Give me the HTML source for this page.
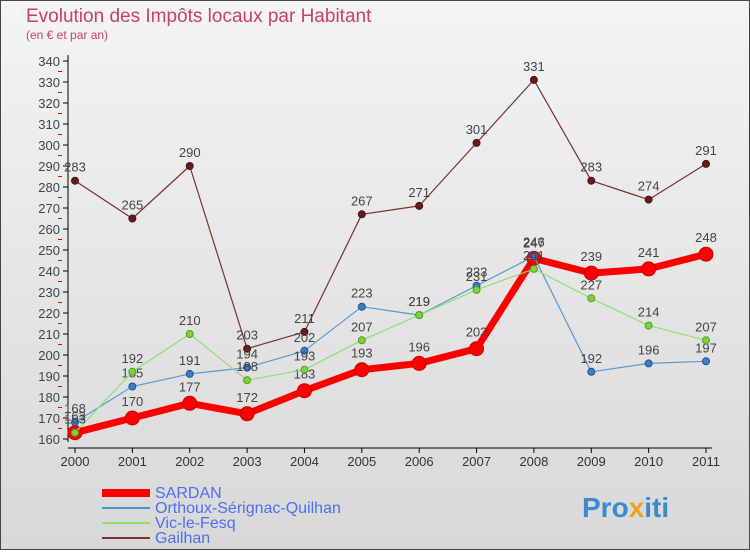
<!DOCTYPE html>
<html><head><meta charset="utf-8"><style>
body{margin:0;width:750px;height:550px;overflow:hidden;font-family:"Liberation Sans",sans-serif}
</style></head><body>
<svg width="750" height="550" xmlns="http://www.w3.org/2000/svg" id="svg">
<defs><linearGradient id="bg" x1="0" y1="0" x2="0" y2="1"><stop offset="0" stop-color="#f4f4f4"/><stop offset="1" stop-color="#d8d8d8"/></linearGradient></defs>
<rect x="0.5" y="0.5" width="749" height="549" fill="url(#bg)" stroke="#444"/>
<text x="26" y="22" font-size="19" fill="#c8406a">Evolution des Impôts locaux par Habitant</text>
<text x="26" y="39" font-size="12" fill="#c8406a">(en € et par an)</text>
<g id="axes"></g><g id="series"></g>
<g font-size="16">
<line x1="102" y1="493" x2="150" y2="493" stroke="#f00" stroke-width="8"/>
<text x="155" y="498" fill="#4a6ff0">SARDAN</text>
<line x1="102" y1="508" x2="150" y2="508" stroke="#4a90d0" stroke-width="2"/>
<text x="155" y="513" fill="#4a6ff0">Orthoux-Sérignac-Quilhan</text>
<line x1="102" y1="523" x2="150" y2="523" stroke="#90e070" stroke-width="2"/>
<text x="155" y="528" fill="#4a6ff0">Vic-le-Fesq</text>
<line x1="102" y1="538" x2="150" y2="538" stroke="#7a3030" stroke-width="2"/>
<text x="155" y="543" fill="#4a6ff0">Gailhan</text>
</g>
<text x="582" y="517" font-size="28" font-weight="bold" fill="#3a8ad0">Pro<tspan fill="#f0a020">x</tspan>iti</text>
</svg>
<script>
const years=[2000,2001,2002,2003,2004,2005,2006,2007,2008,2009,2010,2011];
const yTicks=[160,170,180,190,200,210,220,230,240,250,260,270,280,290,300,310,320,330,340];
const sardan=[163,170,177,172,183,193,196,203,246,239,241,248];
const orthoux=[168,185,191,194,202,223,219,233,247,192,196,197];
const vic=[163,192,210,188,193,207,219,231,241,227,214,207];
const gailhan=[283,265,290,203,211,267,271,301,331,283,274,291];
const NS="http://www.w3.org/2000/svg";
const X=i=>75+i*(631/11);
const Y=v=>439-(v-160)*2.1;
function mk(t,a,p){const e=document.createElementNS(NS,t);for(const k in a)e.setAttribute(k,a[k]);p.appendChild(e);return e;}
const ax=document.getElementById('axes');
let l=mk('line',{x1:68,y1:55,x2:68,y2:442,stroke:'#000'},ax);

l=mk('line',{x1:68,y1:448,x2:712,y2:448,stroke:'#000'},ax);

yTicks.forEach(v=>{mk('line',{x1:63,y1:Y(v),x2:68,y2:Y(v),stroke:'#000'},ax);
 if(v<340)mk('line',{x1:58,y1:Y(v+5),x2:62,y2:Y(v+5),stroke:'#e00'},ax);
 const t=mk('text',{x:60,y:Y(v)+5,'text-anchor':'end','font-size':13,fill:'#444'},ax);t.textContent=v;
 });
years.forEach((y,i)=>{mk('line',{x1:X(i),y1:448,x2:X(i),y2:453,stroke:'#000'},ax);
 const t=mk('text',{x:X(i),y:466,'text-anchor':'middle','font-size':13,fill:'#333'},ax);t.textContent=y;
 });
const sg=document.getElementById('series');
function draw(data,color,w,r,name,fill,stroke){
 const g=mk('g',{},sg);
 const p=mk('polyline',{points:data.map((v,i)=>X(i)+','+Y(v)).join(' '),fill:'none',stroke:color,'stroke-width':w,'stroke-linejoin':'round'},g);
 
 data.forEach((v,i)=>{const c=mk('circle',{cx:X(i),cy:Y(v),r:r,fill:fill,stroke:stroke,'stroke-width':1},g);
  
  const t=mk('text',{x:X(i),y:Y(v)-9-(r>4?3:0),'text-anchor':'middle','font-size':13,fill:'#444'},g);t.textContent=v;
  });
}
draw(gailhan,'#7a3030',1.2,3.5,'gailhan','#6a1a1a','#4a1010');
draw(sardan,'#f00',7,7,'sardan','#f00','#c00');
draw(orthoux,'#5a9ad0',1.2,3.5,'orthoux','#3a80c8','#205090');
draw(vic,'#90e070',1.2,3.5,'vic','#80d040','#50a020');
</script>
</body></html>
